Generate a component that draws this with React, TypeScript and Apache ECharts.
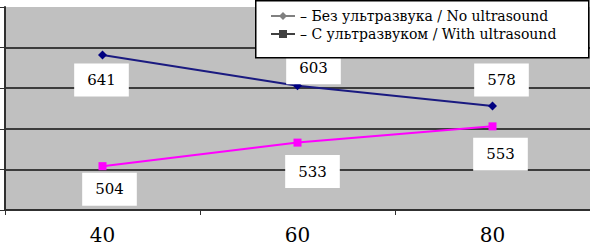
import React, { useEffect, useRef } from "react";
import * as echarts from "echarts";

const categories = ["40", "60", "80"];
const noUltrasound = [641, 603, 578];
const withUltrasound = [504, 533, 553];
const seriesNames = [
  "– Без ультразвука / No ultrasound",
  "– С ультразвуком / With ultrasound",
];
const yMin = 450;
const yMax = 700;
const yStep = 50;

// label box offsets (style only)
const offsetsNo: [number, number][] = [[-1, 25], [16, -18], [9, -26]];
const offsetsWith: [number, number][] = [[7, 23], [15, 29], [8, 28]];

const FONT = "DejaVu Serif";

export default function App() {
  const ref = useRef<HTMLDivElement>(null);
  useEffect(() => {
    document.body.style.margin = "0";
    if (!ref.current) return;
    const chart = echarts.init(ref.current, null, { renderer: "svg" });
    const labelBase = {
      show: true,
      position: "inside",
      formatter: "{c}",
      color: "#000",
      fontSize: 15,
      fontFamily: FONT,
      lineHeight: 17,
      backgroundColor: "#fff",
      padding: [8, 13],
    };
    chart.setOption({
      animation: false,
      backgroundColor: "#fff",
      textStyle: { fontFamily: FONT },
      grid: {
        left: 5,
        right: 0,
        top: 7,
        bottom: 39,
        show: true,
        backgroundColor: "#c0c0c0",
        borderWidth: 0,
      },
      graphic: [
        {
          type: "rect",
          left: 255,
          top: 0,
          z: 3,
          shape: { x: 0, y: 0, width: 333, height: 57 },
          style: { fill: "#fff", stroke: "#000", lineWidth: 1.5 },
        },
      ],
      legend: {
        z: 5,
        left: 270,
        top: 8,
        orient: "vertical",
        padding: 0,
        itemGap: 2,
        itemWidth: 24,
        itemHeight: 10,
        textStyle: { fontSize: 14, fontFamily: FONT, color: "#000", lineHeight: 16 },
        data: [
          {
            name: seriesNames[0],
            itemStyle: { color: "#808080" },
            lineStyle: { color: "#808080" },
          },
          {
            name: seriesNames[1],
            itemStyle: { color: "#404040" },
            lineStyle: { color: "#404040" },
          },
        ],
      },
      xAxis: {
        type: "category",
        data: categories,
        boundaryGap: true,
        axisLine: { show: true, lineStyle: { color: "#303030", width: 2 } },
        axisTick: { show: true, length: 5, inside: false, lineStyle: { color: "#303030", width: 1 } },
        axisLabel: { fontSize: 20, fontFamily: FONT, color: "#000", margin: 15 },
        splitLine: { show: false },
      },
      yAxis: {
        type: "value",
        min: yMin,
        max: yMax,
        interval: yStep,
        axisLine: { show: true, lineStyle: { color: "#303030", width: 2 } },
        axisTick: { show: true, length: 5, inside: false, lineStyle: { color: "#303030", width: 1 } },
        axisLabel: { show: false },
        splitLine: {
          show: true,
          showMaxLine: false,
          lineStyle: { color: "#3c3c3c", width: 2 },
        },
      },
      series: [
        {
          name: seriesNames[0],
          type: "line",
          z: 2,
          symbol: "diamond",
          symbolSize: 9,
          itemStyle: { color: "#000080" },
          lineStyle: { color: "#1a1a80", width: 2 },
          data: noUltrasound.map((v, i) => ({
            value: v,
            label: { ...labelBase, offset: offsetsNo[i] },
          })),
        },
        {
          name: seriesNames[1],
          type: "line",
          z: 2,
          symbol: "rect",
          symbolSize: 8,
          itemStyle: { color: "#ff00ff" },
          lineStyle: { color: "#ff00ff", width: 2 },
          data: withUltrasound.map((v, i) => ({
            value: v,
            label: { ...labelBase, offset: offsetsWith[i] },
          })),
        },
      ],
    });
    return () => chart.dispose();
  }, []);
  return (
    <div
      ref={ref}
      style={{ position: "absolute", left: 0, top: 0, width: 590, height: 249 }}
    />
  );
}
